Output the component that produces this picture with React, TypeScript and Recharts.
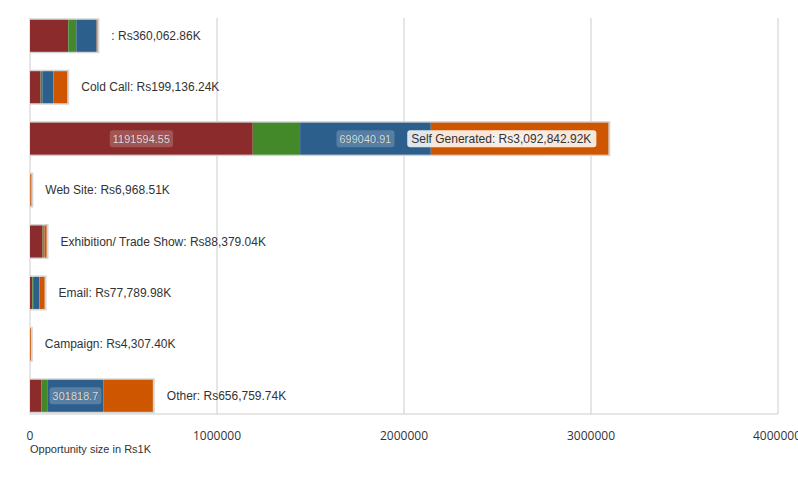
import React from 'react';
import { BarChart, Bar, XAxis, YAxis, CartesianGrid, LabelList, Label } from 'recharts';

const categories = ['', 'Cold Call', 'Self Generated', 'Web Site', 'Exhibition/ Trade Show', 'Email', 'Campaign', 'Other'];
const seriesRed = [204812.45, 57214.8, 1191594.55, 1523.4, 67912.35, 12342.1, 0, 60418.22];
const seriesGreen = [42796.3, 8583.12, 252913.27, 0, 3518.2, 9015.64, 0, 32086.51];
const seriesBlue = [109087.66, 58806.47, 699040.91, 0, 5460.75, 29387.25, 0, 301818.7];
const seriesOrange = [3366.45, 74531.85, 949294.19, 5445.11, 11487.74, 27044.99, 4307.4, 262436.31];
const xTicks = [0, 1000000, 2000000, 3000000, 4000000];
const categoryIndex = [0, 1, 2, 3, 4, 5, 6, 7];
const axisTitle = 'Opportunity size in Rs1K';

const CHART_W = 798;
const CHART_H = 480;
const LABEL_FONT = '"Liberation Sans", Arial, sans-serif';

const fmt = (v: number) =>
  v.toLocaleString('en-US', { minimumFractionDigits: 2, maximumFractionDigits: 2 });

const data = categories.map((name, i) => {
  const total = seriesRed[i] + seriesGreen[i] + seriesBlue[i] + seriesOrange[i];
  return {
    idx: categoryIndex[i],
    name,
    red: seriesRed[i],
    green: seriesGreen[i],
    blue: seriesBlue[i],
    orange: seriesOrange[i],
    label: `${name}: Rs${fmt(total)}K`,
  };
});

let ctx: CanvasRenderingContext2D | null = null;
const measure = (text: string, size: number) => {
  try {
    if (!ctx) ctx = document.createElement('canvas').getContext('2d');
    if (ctx) {
      ctx.font = `${size}px "Liberation Sans", Arial, sans-serif`;
      return ctx.measureText(text).width;
    }
  } catch (e) {
    /* ignore */
  }
  return text.length * size * 0.55;
};

const makeShape = (fill: string, last: boolean) => (props: any) => {
  const { x, y, width, height } = props;
  if (!width || width <= 0) return <g />;
  return (
    <g>
      <rect x={x} y={y - 1.5} width={width + (last ? 2 : 0)} height={height + 3} fill="#d4d4d4" />
      <rect x={x} y={y} width={width} height={height} fill={fill} />
    </g>
  );
};

const ValueLabel = (props: any) => {
  const { x, y, width, height, value } = props;
  if (value === undefined || value === null || !value) return null;
  const text = String(value);
  const w = measure(text, 11);
  if (width < w + 6) return null;
  const cx = x + width / 2;
  const cy = y + height / 2;
  return (
    <g>
      <rect x={cx - w / 2 - 3} y={cy - 8.5} width={w + 6} height={17} rx={3} fill="#ffffff" fillOpacity={0.2} />
      <text x={cx + 0.7} y={cy + 0.7} textAnchor="middle" dominantBaseline="central" fontSize={11} fontFamily={LABEL_FONT} fill="#000" fillOpacity={0.35}>
        {text}
      </text>
      <text x={cx} y={cy} textAnchor="middle" dominantBaseline="central" fontSize={11} fontFamily={LABEL_FONT} fill="#dcdcdc">
        {text}
      </text>
    </g>
  );
};

const TotalLabel = (props: any) => {
  const { x, y, width, height, value } = props;
  const text = String(value);
  const end = x + width;
  const cy = y + height / 2;
  const w = measure(text, 12);
  if (end + 14 + w <= CHART_W - 2) {
    return (
      <text x={end + 14} y={cy} dominantBaseline="central" fontSize={12} fontFamily={LABEL_FONT} fill="#333">
        {text}
      </text>
    );
  }
  const tx = end - 17;
  return (
    <g>
      <rect x={tx - w - 4} y={cy - 8.5} width={w + 9} height={17} rx={3} fill="#ffffff" fillOpacity={0.85} />
      <text x={tx} y={cy} textAnchor="end" dominantBaseline="central" fontSize={12} fontFamily={LABEL_FONT} fill="#333">
        {text}
      </text>
    </g>
  );
};

export default function App() {
  return (
    <div style={{ position: 'absolute', left: 0, top: 0 }}>
      <BarChart
        width={CHART_W}
        height={CHART_H}
        data={data}
        layout="vertical"
        margin={{ top: 18, right: 20, left: 30, bottom: 26 }}
      >
        <CartesianGrid horizontal={false} stroke="#cccccc" />
        <XAxis
          type="number"
          domain={[0, 4000000]}
          ticks={xTicks}
          tickLine={false}
          axisLine={{ stroke: '#cccccc' }}
          height={40}
          tickMargin={11}
          tick={{ fontSize: 12, fill: '#333', fontFamily: '"Open Sans", sans-serif' }}
          allowDataOverflow
        >
          <Label
            content={(p: any) => (
              <text x={p.viewBox.x} y={p.viewBox.y + 39} fontSize={11} fontFamily={LABEL_FONT} fill="#333">
                {axisTitle}
              </text>
            )}
          />
        </XAxis>
        <YAxis
          type="number"
          dataKey="idx"
          hide
          domain={[-0.3403, 7.3597]}
          ticks={categoryIndex}
          allowDataOverflow
        />
        <Bar dataKey="red" stackId="s" barSize={32} isAnimationActive={false} shape={makeShape('#8b2b2b', false)}>
          <LabelList dataKey="red" content={ValueLabel} />
        </Bar>
        <Bar dataKey="green" stackId="s" barSize={32} isAnimationActive={false} shape={makeShape('#43892a', false)}>
          <LabelList dataKey="green" content={ValueLabel} />
        </Bar>
        <Bar dataKey="blue" stackId="s" barSize={32} isAnimationActive={false} shape={makeShape('#2d5f8d', false)}>
          <LabelList dataKey="blue" content={ValueLabel} />
        </Bar>
        <Bar dataKey="orange" stackId="s" barSize={32} isAnimationActive={false} shape={makeShape('#cf5600', true)}>
          <LabelList dataKey="orange" content={ValueLabel} />
          <LabelList dataKey="label" content={TotalLabel} />
        </Bar>
      </BarChart>
    </div>
  );
}
